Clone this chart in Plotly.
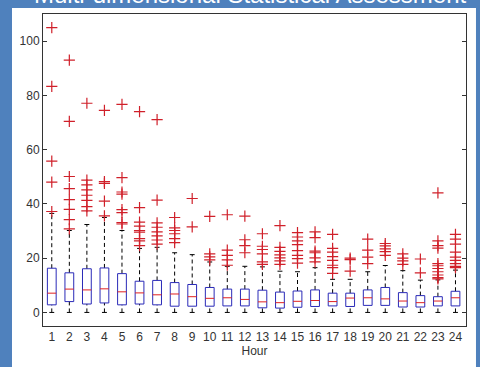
import plotly.graph_objects as go

# Hourly distribution summary (box plot statistics per hour)
hours = list(range(1, 25))
q1 = [2.8, 4.0, 3.1, 3.5, 2.8, 3.1, 2.8, 2.3, 2.3, 2.3, 2.4, 2.4,
      1.7, 1.6, 1.9, 2.2, 2.4, 2.2, 2.6, 2.6, 2.0, 2.0, 2.4, 2.4]
median = [7.1, 8.6, 8.3, 8.7, 7.6, 7.2, 6.5, 6.8, 5.8, 5.2, 5.4, 4.8,
          3.9, 3.6, 4.1, 4.4, 4.0, 5.3, 5.4, 5.0, 4.2, 3.6, 4.2, 5.4]
q3 = [16.3, 14.6, 16.1, 16.4, 14.3, 11.5, 11.8, 11.0, 10.3, 9.2, 8.6, 8.6,
      8.2, 7.5, 7.9, 8.3, 7.1, 7.1, 8.3, 9.2, 7.3, 6.2, 5.8, 7.8]
lower_whisker = [0.0] * 24
upper_whisker = [36.5, 30.2, 32.4, 35.0, 30.2, 23.6, 24.0, 22.0, 21.3, 18.6, 17.0, 17.0,
                 16.8, 15.2, 15.0, 16.5, 12.2, 12.2, 15.0, 17.3, 15.4, 11.9, 12.0, 15.6]
outliers = [
    [105, 83.3, 55.8, 48, 37.2],
    [93, 70.4, 50.1, 45.6, 41.6, 38, 34.2, 30.8],
    [77.1, 48.8, 47, 45.2, 43.2, 41.3, 39, 37.4],
    [74.5, 48.2, 47.6, 41, 35.6],
    [76.7, 49.7, 44.4, 43.6, 37.9, 36.8, 33.1, 32.6],
    [74, 38.6, 33.3, 31.8, 30.2, 29.6, 27.2, 26.4, 24.6],
    [71.1, 41.4, 33, 31.4, 29.7, 28.2, 26.7, 25.2],
    [35, 31.2, 30.2, 29, 27.2, 25.7],
    [42, 31.5],
    [35.4, 21.6, 20.5, 19.4],
    [36, 23, 21, 19.4, 17.4],
    [35.5, 26.8, 24.6, 22],
    [29, 24.4, 23.2, 21.6, 18.6, 17.7],
    [32, 24, 22.5, 21.2, 20.1, 19, 17.7],
    [29.4, 27.8, 26.4, 25, 22.8, 21, 19.8, 18.2],
    [29.7, 27.6, 22.6, 22.0, 20.1, 18.6],
    [28.8, 23.6, 22.2, 20.6, 19.2, 17.4, 16.5, 14.4],
    [20, 19.5, 15.2],
    [27, 23, 20.4, 18],
    [25.4, 24.5, 23.4, 22.4, 21],
    [21.6, 20, 19, 17.7],
    [19.7, 14.6],
    [44.1, 26.4, 24.6, 23.7, 18, 17.2, 16.2, 15, 13.8, 12.8, 12.4],
    [28.8, 27, 25.2, 22.2, 20.4, 19.2, 18, 17, 16.5],
]
y_ticks = [0, 20, 40, 60, 80, 100]

half_box = 0.25
half_cap = 0.14

box_x, box_y = [], []
med_x, med_y = [], []
wh_x, wh_y = [], []
cap_x, cap_y = [], []
out_x, out_y = [], []
for i, h in enumerate(hours):
    box_x += [h - half_box, h + half_box, h + half_box, h - half_box, h - half_box, None]
    box_y += [q1[i], q1[i], q3[i], q3[i], q1[i], None]
    med_x += [h - half_box, h + half_box, None]
    med_y += [median[i], median[i], None]
    wh_x += [h, h, None, h, h, None]
    wh_y += [q3[i], upper_whisker[i], None, lower_whisker[i], q1[i], None]
    cap_x += [h - half_cap, h + half_cap, None, h - half_cap, h + half_cap, None]
    cap_y += [upper_whisker[i], upper_whisker[i], None,
              lower_whisker[i], lower_whisker[i], None]
    out_x += [h] * len(outliers[i])
    out_y += outliers[i]

fig = go.Figure()
fig.add_trace(go.Scatter(x=wh_x, y=wh_y, mode="lines",
                         line=dict(color="black", width=1, dash="4px,3px"),
                         hoverinfo="skip"))
fig.add_trace(go.Scatter(x=cap_x, y=cap_y, mode="lines",
                         line=dict(color="black", width=1), hoverinfo="skip"))
fig.add_trace(go.Scatter(x=box_x, y=box_y, mode="lines",
                         line=dict(color="#2a2ab8", width=1), hoverinfo="skip"))
fig.add_trace(go.Scatter(x=med_x, y=med_y, mode="lines",
                         line=dict(color="#e02020", width=1), hoverinfo="skip"))
fig.add_trace(go.Scatter(x=out_x, y=out_y, mode="markers",
                         marker=dict(symbol="cross-thin", size=8,
                                     line=dict(color="#d0202a", width=1.2))))

fig.update_layout(
    width=480, height=367,
    margin=dict(l=43, r=14, t=14, b=33),
    paper_bgcolor="#4f81bd",
    plot_bgcolor="white",
    showlegend=False,
    font=dict(family="Liberation Sans, Arial, sans-serif", size=12, color="#333333"),
    shapes=[dict(type="rect", xref="paper", yref="paper",
                 x0=-0.0733, x1=1.0236, y0=-0.2, y1=1.019,
                 fillcolor="white", line=dict(width=0), layer="below")],
    annotations=[dict(text="Multi-dimensional Statistical Assessment",
                      xref="paper", yref="paper", x=0.49, y=1.012,
                      xanchor="center", yanchor="bottom", showarrow=False,
                      font=dict(family="Liberation Sans, Arial, sans-serif",
                                size=24, color="white"))],
)
fig.update_xaxes(
    range=[0.5, 24.6], tickmode="array", tickvals=hours,
    ticktext=[str(h) for h in hours], ticks="",
    showline=True, linecolor="#333333", linewidth=1, mirror=True,
    showgrid=False, zeroline=False,
    title=dict(text="Hour", standoff=2, font=dict(size=12)),
)
fig.update_yaxes(
    range=[-5, 110], tickmode="array", tickvals=y_ticks,
    ticks="inside", ticklen=4, tickcolor="#333333",
    showline=True, linecolor="#333333", linewidth=1, mirror="ticks",
    showgrid=False, zeroline=False,
)

fig.write_html("out.html")
